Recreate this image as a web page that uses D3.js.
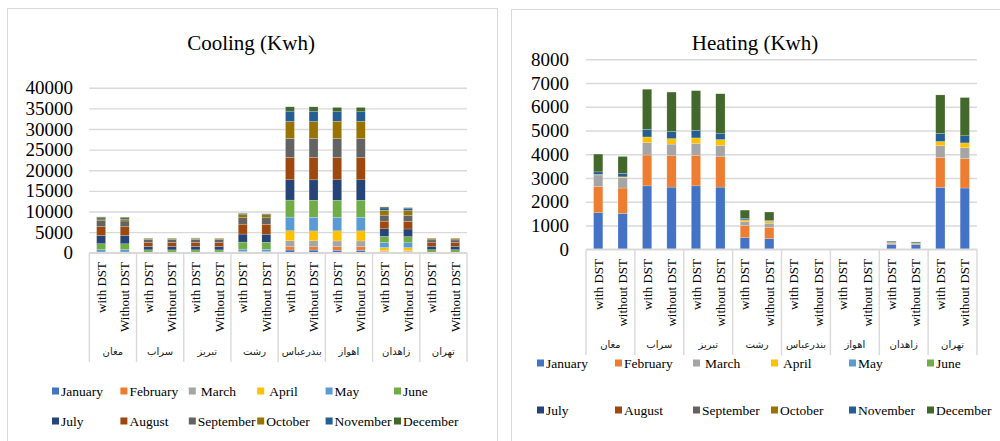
<!DOCTYPE html>
<html>
<head>
<meta charset="utf-8">
<script src="https://cdn.jsdelivr.net/npm/d3@7"></script>
<style>
  body { margin: 0; background: #fff; }
  svg { display: block; }
  text { font-family: "Liberation Serif", serif; fill: #000; }
  .city { font-family: "DejaVu Sans", sans-serif; font-size: 10px; fill: #222; }
</style>
</head>
<body>
<svg id="chart" width="1000" height="441"></svg>
<script>
const cities = ["مغان", "سراب", "تبریز", "رشت", "بندرعباس", "اهواز", "زاهدان", "تهران"];
const months = ["January", "February", "March", "April", "May", "June",
  "July", "August", "September", "October", "November", "December"];
const monthColors = ["#4472C4", "#ED7D31", "#A5A5A5", "#FFC000", "#5B9BD5", "#70AD47",
  "#264478", "#9E480E", "#636363", "#997300", "#255E91", "#43682B"];

// cooling, kWh per month, one row per city
const coolingWithDST = [
  [30, 20, 50, 80, 550, 1450, 2000, 2150, 1400, 450, 300, 200],
  [10, 10, 20, 40, 60, 550, 850, 1000, 650, 200, 100, 60],
  [10, 10, 30, 50, 70, 520, 830, 1000, 660, 220, 110, 70],
  [30, 30, 60, 150, 600, 1700, 1950, 2400, 1550, 750, 220, 120],
  [650, 800, 1450, 2420, 3310, 4120, 4930, 5410, 4610, 4120, 2500, 1050],
  [600, 850, 1400, 2450, 3300, 4120, 4950, 5400, 4600, 4200, 2300, 1050],
  [150, 150, 200, 750, 1200, 1500, 1850, 1850, 1450, 1200, 550, 250],
  [10, 10, 20, 30, 60, 600, 850, 980, 550, 250, 120, 80]
];
const coolingWithoutDST = [
  [30, 20, 50, 70, 560, 1430, 2050, 2100, 1380, 460, 300, 190],
  [10, 10, 20, 40, 60, 540, 850, 990, 650, 200, 100, 60],
  [10, 10, 30, 50, 70, 510, 830, 990, 650, 210, 110, 70],
  [30, 30, 60, 140, 590, 1680, 1960, 2400, 1560, 760, 220, 120],
  [640, 800, 1440, 2400, 3320, 4130, 4930, 5400, 4620, 4120, 2510, 1050],
  [600, 850, 1400, 2440, 3310, 4120, 4950, 5400, 4600, 4200, 2300, 1050],
  [140, 140, 200, 740, 1180, 1500, 1850, 1850, 1450, 1180, 580, 120],
  [10, 10, 20, 30, 60, 590, 850, 970, 550, 250, 120, 80]
];

// heating, kWh per month, one row per city
const heatingWithDST = [
  [1540, 1100, 490, 20, 0, 0, 0, 0, 0, 0, 110, 750],
  [2670, 1300, 520, 240, 0, 0, 0, 0, 0, 0, 320, 1690],
  [2670, 1290, 500, 230, 0, 0, 0, 0, 0, 0, 320, 1670],
  [490, 510, 180, 60, 0, 0, 0, 0, 0, 0, 70, 340],
  [4, 0, 0, 0, 0, 0, 0, 0, 0, 0, 0, 2],
  [2, 0, 0, 0, 0, 0, 0, 0, 0, 0, 0, 1],
  [210, 40, 30, 0, 0, 0, 0, 0, 0, 0, 20, 40],
  [2610, 1260, 490, 180, 0, 0, 0, 0, 0, 0, 340, 1620]
];
const heatingWithoutDST = [
  [1510, 1070, 440, 30, 0, 0, 0, 0, 0, 0, 140, 720],
  [2620, 1320, 490, 230, 0, 0, 0, 0, 0, 0, 310, 1650],
  [2620, 1280, 480, 240, 0, 0, 0, 0, 0, 0, 270, 1660],
  [450, 480, 170, 80, 0, 0, 0, 0, 0, 0, 40, 350],
  [4, 0, 0, 0, 0, 0, 0, 0, 0, 0, 0, 2],
  [2, 0, 0, 0, 0, 0, 0, 0, 0, 0, 0, 1],
  [200, 30, 20, 0, 0, 0, 0, 0, 0, 0, 20, 40],
  [2580, 1240, 460, 200, 0, 0, 0, 0, 0, 0, 300, 1610]
];

const coolingTicks = [0, 5000, 10000, 15000, 20000, 25000, 30000, 35000, 40000];
const heatingTicks = [0, 1000, 2000, 3000, 4000, 5000, 6000, 7000, 8000];

const SERIF = "Liberation Serif, serif";
const svg = d3.select("#chart");

const stackedChart = (selection, props) => {
  const {
    title, titleX, titleY, panel, plot, ticks, tickLabelX,
    withData, withoutData, dstLabels, barLabelY, cityY, sepBottom,
    legendX, legendStep, legendRows
  } = props;

  const g = selection.append("g");

  // panel border
  g.append("rect")
    .attr("x", panel.x + 0.5).attr("y", panel.y + 0.5)
    .attr("width", panel.w).attr("height", panel.h)
    .attr("fill", "#fff").attr("stroke", "#d9d9d9");

  g.append("text")
    .attr("x", titleX).attr("y", titleY)
    .attr("text-anchor", "middle")
    .attr("font-family", SERIF)
    .attr("font-size", 21)
    .text(title);

  const yScale = d3.scaleLinear()
    .domain([0, d3.max(ticks)])
    .range([plot.bottom, plot.top]);

  const xOuter = d3.scaleBand()
    .domain(cities)
    .range([plot.left, plot.right]);

  const xInner = d3.scaleBand()
    .domain(["with", "without"])
    .range([0, xOuter.bandwidth()])
    .paddingInner(0.62)
    .paddingOuter(0.31);

  // gridlines + tick labels
  const yAxis = d3.axisLeft(yScale)
    .tickValues(ticks)
    .tickFormat(d3.format("d"))
    .tickSize(-(plot.right - plot.left))
    .tickPadding(plot.left - tickLabelX);

  const yAxisG = g.append("g")
    .attr("transform", `translate(${plot.left},0)`)
    .call(yAxis)
    .attr("font-family", SERIF)
    .attr("font-size", 19);
  yAxisG.select(".domain").remove();
  yAxisG.selectAll(".tick line")
    .attr("stroke", "#d9d9d9").attr("stroke-width", 1.4);
  yAxisG.selectAll(".tick text").attr("fill", "#000");

  // rows: one per city/variant
  const rows = [];
  cities.forEach((c, i) => {
    rows.push({ city: c, variant: "with", values: withData[i] });
    rows.push({ city: c, variant: "without", values: withoutData[i] });
  });

  const stack = d3.stack()
    .keys(d3.range(months.length))
    .value((d, k) => d.values[k]);
  const series = stack(rows);

  const barX = (d) => xOuter(d.city) + xInner(d.variant);

  g.append("g")
    .selectAll("g")
    .data(series)
    .join("g")
    .attr("fill", (s) => monthColors[s.key])
    .selectAll("rect")
    .data((s) => s)
    .join("rect")
    .attr("x", (d) => barX(d.data))
    .attr("width", xInner.bandwidth())
    .attr("y", (d) => yScale(d[1]))
    .attr("height", (d) => Math.max(0, yScale(d[0]) - yScale(d[1])))
    .attr("stroke", "#fff")
    .attr("stroke-opacity", 0.5)
    .attr("stroke-width", 0.4);

  // category axis line and separators
  g.append("line")
    .attr("x1", plot.left).attr("x2", plot.right)
    .attr("y1", plot.bottom).attr("y2", plot.bottom)
    .attr("stroke", "#d9d9d9").attr("stroke-width", 1.4);

  const seps = cities.map((c) => xOuter(c)).concat([plot.right]);
  g.append("g")
    .selectAll("line")
    .data(seps)
    .join("line")
    .attr("x1", (d) => d).attr("x2", (d) => d)
    .attr("y1", plot.bottom).attr("y2", sepBottom)
    .attr("stroke", "#d9d9d9").attr("stroke-width", 1.4);

  // rotated bar labels
  g.append("g")
    .selectAll("text")
    .data(rows)
    .join("text")
    .attr("transform", (d) =>
      `translate(${barX(d) + xInner.bandwidth() / 2},${barLabelY}) rotate(-90)`)
    .attr("text-anchor", "end")
    .attr("dy", "0.35em")
    .attr("font-family", SERIF)
    .attr("font-size", 13)
    .text((d) => (d.variant === "with" ? dstLabels[0] : dstLabels[1]));

  // city labels
  g.append("g")
    .selectAll("text")
    .data(cities)
    .join("text")
    .attr("class", "city")
    .attr("x", (d) => xOuter(d) + xOuter.bandwidth() / 2)
    .attr("y", cityY)
    .attr("text-anchor", "middle")
    .attr("dy", "0.35em")
    .text((d) => d);

  // legend, 6 per row
  const legend = g.append("g")
    .selectAll("g")
    .data(months)
    .join("g")
    .attr("transform", (d, i) =>
      `translate(${legendX + (i % 6) * legendStep},${legendRows[Math.floor(i / 6)]})`);
  legend.append("rect")
    .attr("x", 0).attr("y", -3.5)
    .attr("width", 7).attr("height", 7)
    .attr("fill", (d, i) => monthColors[i]);
  legend.append("text")
    .attr("x", (d) => (d === "March" || d === "April" ? 12 : 9))
    .attr("dy", "0.35em")
    .attr("font-family", SERIF)
    .attr("font-size", 13.5)
    .text((d) => d);
};

stackedChart(svg, {
  title: "Cooling (Kwh)",
  titleX: 251, titleY: 50,
  panel: { x: 7, y: 8, w: 490, h: 445 },
  plot: { left: 89.3, right: 467, top: 87.7, bottom: 252.7 },
  ticks: coolingTicks,
  tickLabelX: 73,
  withData: coolingWithDST,
  withoutData: coolingWithoutDST,
  dstLabels: ["with DST", "Without DST"],
  barLabelY: 262,
  cityY: 351,
  sepBottom: 362,
  legendX: 52, legendStep: 68.4,
  legendRows: [391, 421]
});

stackedChart(svg, {
  title: "Heating (Kwh)",
  titleX: 755, titleY: 50,
  panel: { x: 511, y: 9, w: 500, h: 445 },
  plot: { left: 586, right: 977, top: 59.3, bottom: 249.3 },
  ticks: heatingTicks,
  tickLabelX: 569,
  withData: heatingWithDST,
  withoutData: heatingWithoutDST,
  dstLabels: ["with DST", "without DST"],
  barLabelY: 259,
  cityY: 344,
  sepBottom: 355,
  legendX: 537, legendStep: 78,
  legendRows: [363, 410]
});
</script>
</body>
</html>
